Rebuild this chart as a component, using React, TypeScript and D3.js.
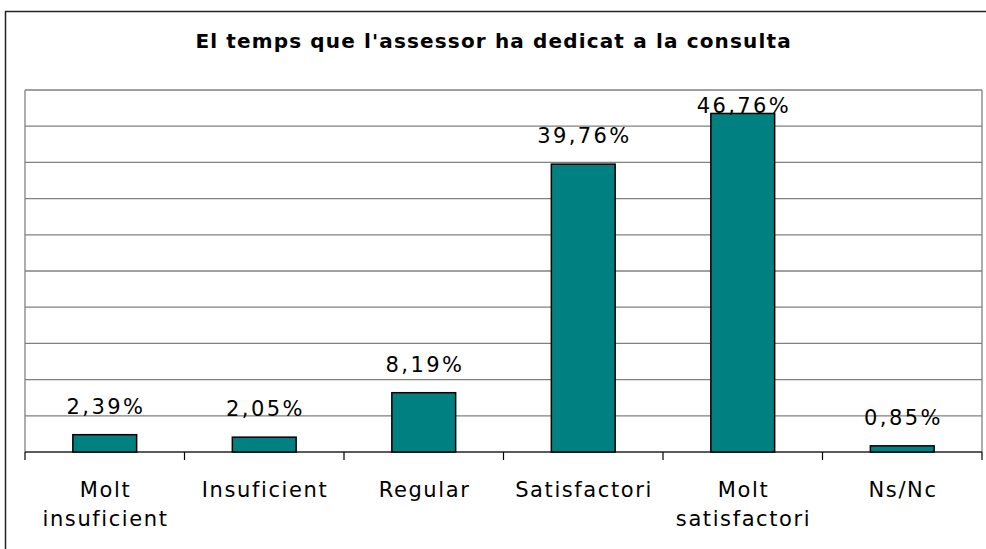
import React from "react";
import * as d3 from "d3";

const categories: string[][] = [
  ["Molt", "insuficient"],
  ["Insuficient"],
  ["Regular"],
  ["Satisfactori"],
  ["Molt", "satisfactori"],
  ["Ns/Nc"],
];
const values: number[] = [2.39, 2.05, 8.19, 39.76, 46.76, 0.85];
const yTicks: number[] = [0, 5, 10, 15, 20, 25, 30, 35, 40, 45, 50];
const title = "El temps que l'assessor ha dedicat a la consulta";

const W = 986;
const H = 549;
const plot = { left: 25, right: 982, top: 90, bottom: 452 };
const FONT = "'DejaVu Sans', Verdana, sans-serif";

export default function App() {
  const keys = categories.map((_, i) => String(i));
  const x = d3.scaleBand<string>().domain(keys).range([plot.left, plot.right]).paddingInner(0).paddingOuter(0);
  const y = d3.scaleLinear().domain([0, 50]).range([plot.bottom, plot.top]);
  const bw = x.bandwidth() * 0.4;
  const fmt = (v: number) => v.toFixed(2).replace(".", ",") + "%";
  const boundaries = keys.map((k) => x(k)!).concat([plot.right]);

  return (
    <svg width={W} height={H} style={{ position: "absolute", left: 0, top: 0, background: "#fff" }}>
      <rect x={5.5} y={11.5} width={W + 10} height={H + 10} fill="#fff" stroke="#222" strokeWidth={1.5} />
      <text x={493 + 0.6} y={48} textAnchor="middle" fontFamily={FONT} fontWeight="bold" fontSize={20} letterSpacing={1.15} fill="#000">
        {title}
      </text>
      {yTicks.map((t) => (
        <line key={t} x1={plot.left} x2={plot.right} y1={y(t)} y2={y(t)} stroke="#808080" strokeWidth={1.3} />
      ))}
      <line x1={plot.left} x2={plot.left} y1={plot.top} y2={plot.bottom} stroke="#808080" strokeWidth={1.3} />
      <line x1={plot.right} x2={plot.right} y1={plot.top} y2={plot.bottom} stroke="#808080" strokeWidth={1.3} />
      <line x1={plot.left} x2={plot.right} y1={plot.bottom} y2={plot.bottom} stroke="#444" strokeWidth={1.3} />
      {boundaries.map((b, i) => (
        <line key={i} x1={b} x2={b} y1={plot.bottom} y2={plot.bottom + 8} stroke="#000" strokeWidth={1.2} />
      ))}
      {values.map((v, i) => {
        const cx = x(String(i))! + x.bandwidth() / 2;
        const top = y(v);
        const ly = Math.max(top - 21, 113);
        return (
          <g key={i}>
            <rect x={cx - bw / 2} y={top} width={bw} height={plot.bottom - top} fill="#008080" stroke="#000" strokeWidth={1.5} />
            <text x={cx + 1.2} y={ly} textAnchor="middle" fontFamily={FONT} fontSize={21} letterSpacing={2.4} fill="#000">
              {fmt(v)}
            </text>
          </g>
        );
      })}
      {categories.map((lines, i) => {
        const cx = x(String(i))! + x.bandwidth() / 2;
        return (
          <text key={i} textAnchor="middle" fontFamily={FONT} fontSize={21} letterSpacing={1.6} fill="#000">
            {lines.map((l, j) => (
              <tspan key={j} x={cx + 0.8} y={497 + j * 29}>
                {l}
              </tspan>
            ))}
          </text>
        );
      })}
    </svg>
  );
}
